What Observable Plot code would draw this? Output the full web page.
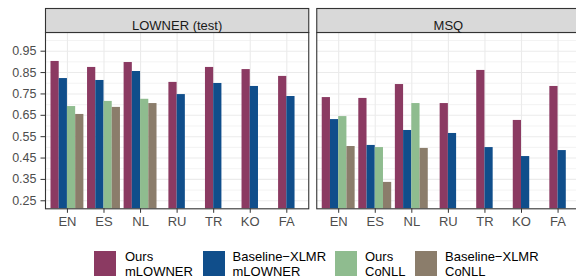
<!DOCTYPE html>
<html><head><meta charset="utf-8">
<script src="https://cdn.jsdelivr.net/npm/d3@7"></script>
<script src="https://cdn.jsdelivr.net/npm/@observablehq/plot@0.6"></script>
<style>
html,body{margin:0;padding:0;background:#fff;overflow:hidden;width:576px;height:279px;}
#wrap{position:absolute;left:0;top:0;width:576px;height:279px;overflow:hidden;font-family:"Liberation Sans",Arial,sans-serif;}
#chart{position:absolute;left:0;top:0;}
.item{position:absolute;top:251px;}
.key{position:absolute;top:0;left:0;width:22px;height:25px;}
.lab{position:absolute;top:-2.5px;font-size:13px;line-height:15px;color:#000;white-space:nowrap;}
</style></head><body><div id="wrap"><div id="chart"></div><div id="legend"></div></div>
<script>
// ---- data ----
const datasets = ["LOWNER (test)", "MSQ"];
const langs = ["EN", "ES", "NL", "RU", "TR", "KO", "FA"];
const series = ["Ours mLOWNER", "Baseline−XLMR mLOWNER", "Ours CoNLL", "Baseline−XLMR CoNLL"];
const legendLines = [["Ours", "mLOWNER"], ["Baseline−XLMR", "mLOWNER"], ["Ours", "CoNLL"], ["Baseline−XLMR", "CoNLL"]];
const colors = ["#8B3A62", "#104E8B", "#8FBC8F", "#8B7D6B"];

const lownerOursMLOWNER = [0.902, 0.874, 0.897, 0.804, 0.874, 0.864, 0.832];
const lownerBaseMLOWNER = [0.822, 0.813, 0.855, 0.747, 0.799, 0.785, 0.738];
const lownerOursCoNLL   = [0.691, 0.715, 0.725, null, null, null, null];
const lownerBaseCoNLL   = [0.654, 0.687, 0.705, null, null, null, null];

const msqOursMLOWNER = [0.733, 0.729, 0.794, 0.705, 0.860, 0.626, 0.785];
const msqBaseMLOWNER = [0.630, 0.509, 0.579, 0.565, 0.499, 0.457, 0.485];
const msqOursCoNLL   = [0.644, 0.499, 0.705, null, null, null, null];
const msqBaseCoNLL   = [0.504, 0.336, 0.495, null, null, null, null];

const majorTicks = [0.25, 0.35, 0.45, 0.55, 0.65, 0.75, 0.85, 0.95];
const minorTicks = [0.30, 0.40, 0.50, 0.60, 0.70, 0.80, 0.90, 1.00];
const yMin = 0.2125, yMax = 1.0375;

// ---- table ----
const values = {
  "LOWNER (test)": [lownerOursMLOWNER, lownerBaseMLOWNER, lownerOursCoNLL, lownerBaseCoNLL],
  "MSQ": [msqOursMLOWNER, msqBaseMLOWNER, msqOursCoNLL, msqBaseCoNLL]
};
const langIdx = langs.map((d, i) => i);
const dodgeWidth = 0.9;
const rows = [];
for (const ds of datasets) {
  langs.forEach((lang, li) => {
    const present = series.map((s, si) => ({s, v: values[ds][si][li]})).filter(d => d.v != null);
    const w = dodgeWidth / series.length;
    present.forEach((d, j) => {
      const c = li + (j - (present.length - 1) / 2) * w;
      rows.push({dataset: ds, lang, series: d.s, value: d.v, x1: c - w / 2, x2: c + w / 2});
    });
  });
}

const font = '"Liberation Sans", Arial, sans-serif';
const innerH = 240 - 32 - 31.7;

const plot = Plot.plot({
  width: 576, height: 240,
  marginLeft: 45, marginRight: -3.5, marginTop: 32, marginBottom: 31.7,
  style: {fontFamily: font, fontSize: "12.5px", color: "#4D4D4D", background: "transparent", overflow: "visible"},
  fx: {domain: datasets, paddingInner: 0.0295, paddingOuter: 0, axis: null, round: false},
  x: {domain: [-0.6, langs.length - 0.4], axis: null},
  y: {domain: [yMin, yMax], axis: null},
  color: {domain: series, range: colors},
  marks: [
    Plot.ruleY(minorTicks, {stroke: "#EBEBEB", strokeWidth: 0.6}),
    Plot.ruleY(majorTicks, {stroke: "#EBEBEB", strokeWidth: 1.1}),
    Plot.ruleX(langIdx, {stroke: "#EBEBEB", strokeWidth: 1.1}),
    Plot.rect(rows, {fx: "dataset", x1: "x1", x2: "x2", y1: d => yMin, y2: "value", fill: "series"}),
    Plot.frame({stroke: "#333333", strokeWidth: 1.1}),
    Plot.frame({fill: "#D9D9D9", stroke: "#333333", strokeWidth: 1.1, insetTop: -24, insetBottom: innerH}),
    Plot.text(datasets, {fx: d => d, text: d => d, frameAnchor: "top", dy: -12, fontSize: 13, fill: "#1A1A1A"}),
    Plot.axisY(majorTicks, {anchor: "left", tickFormat: d3.format(".2f"), tickSize: 4.5, tickPadding: 4.5, fontSize: 12.5, stroke: "#333333", fill: "#4D4D4D", label: null}),
    Plot.axisX(langIdx, {anchor: "bottom", tickFormat: i => langs[i], tickSize: 4.5, tickPadding: 3, fontSize: 13, stroke: "#333333", fill: "#4D4D4D", label: null})
  ]
});
document.getElementById("chart").appendChild(plot);

// ---- legend ----
const keyX = [94, 203, 335, 415];
const textX = [125, 232.5, 365, 445];
const legend = document.getElementById("legend");
series.forEach((s, i) => {
  const item = document.createElement("div");
  item.className = "item";
  item.style.left = keyX[i] + "px";
  const key = document.createElement("div");
  key.className = "key";
  key.style.background = colors[i];
  const lab = document.createElement("div");
  lab.className = "lab";
  lab.style.left = (textX[i] - keyX[i]) + "px";
  lab.innerHTML = legendLines[i].join("<br>");
  item.appendChild(key);
  item.appendChild(lab);
  legend.appendChild(item);
});
</script>
</body></html>
